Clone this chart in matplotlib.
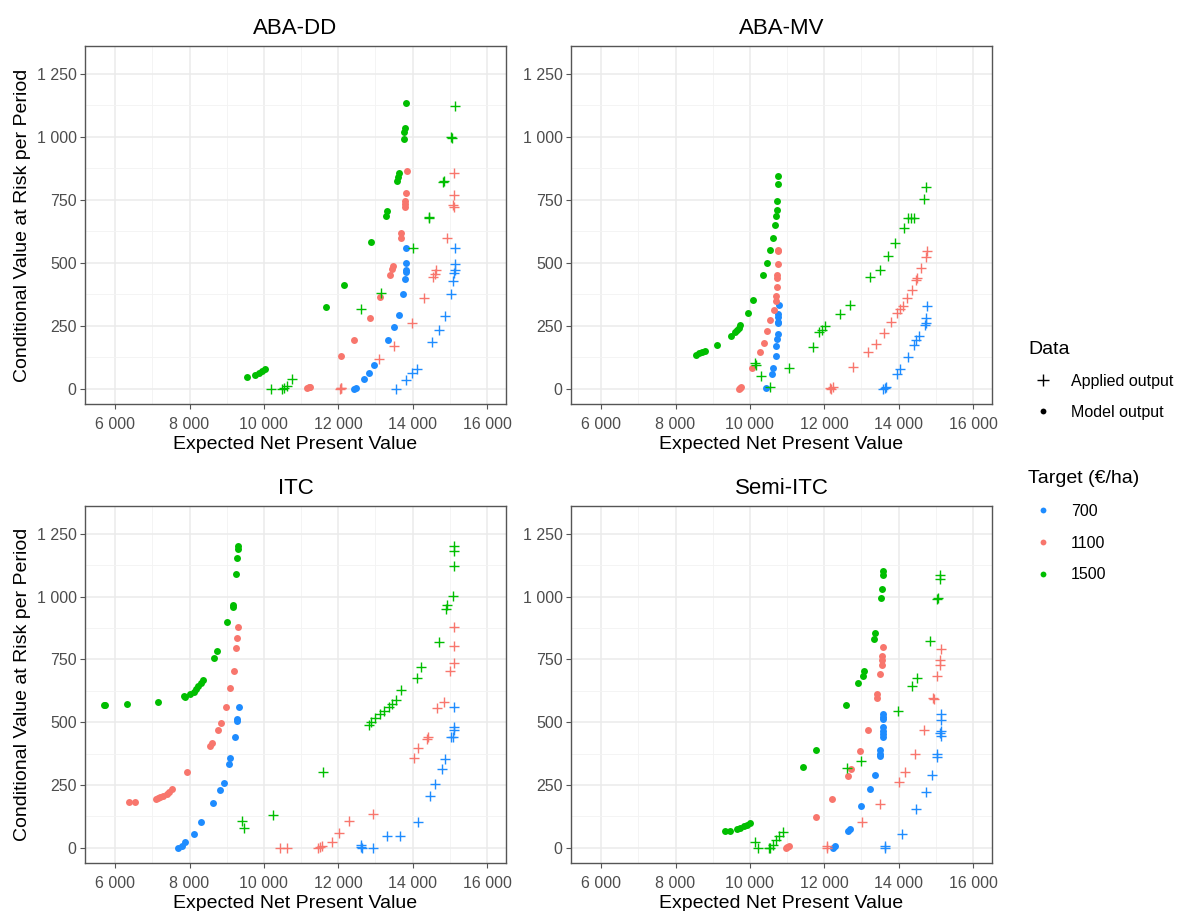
import matplotlib
matplotlib.use("Agg")
import matplotlib.pyplot as plt
from matplotlib.lines import Line2D
from matplotlib.ticker import FuncFormatter, MultipleLocator

plt.rcParams["font.family"] = ["Liberation Sans", "DejaVu Sans"]

# ---- data -----------------------------------------------------------------
PANELS = ["ABA-DD", "ABA-MV", "ITC", "Semi-ITC"]
TARGETS = ["700", "1100", "1500"]
TARGET_COLORS = {"700": "#1E8CFF", "1100": "#F8766D", "1500": "#00BE00"}

# ABA-DD
abadd_700_model_x = [13830, 13830, 13830, 13830, 13800, 13740, 13630, 13490, 13330, 12970, 12830, 12680, 12430, 12470]
abadd_700_model_y = [560, 499, 472, 462, 435, 376, 294, 246, 194, 95, 62, 38, 1, 2]
abadd_700_applied_x = [15130, 15130, 15130, 15120, 15090, 15020, 14860, 14700, 14520, 14120, 13980, 13820, 13560]
abadd_700_applied_y = [557, 496, 472, 459, 429, 376, 291, 234, 185, 78, 62, 36, 0]
abadd_1100_model_x = [13850, 13830, 13800, 13800, 13800, 13700, 13690, 13470, 13450, 13400, 13130, 12840, 12430, 12060, 11160, 11200, 11230]
abadd_1100_model_y = [865, 776, 747, 734, 720, 620, 598, 488, 475, 452, 364, 283, 194, 131, 3, 7, 9]
abadd_1100_applied_x = [15120, 15120, 15080, 15100, 14930, 14640, 14590, 14550, 14300, 13970, 13490, 13100, 12040, 12060, 12080]
abadd_1100_applied_y = [858, 770, 730, 721, 598, 472, 455, 442, 360, 261, 172, 118, 0, 2, 5]
abadd_1500_model_x = [13830, 13790, 13770, 13760, 13620, 13600, 13580, 13310, 13270, 12890, 12150, 11680, 9540, 9770, 9860, 9950, 10040]
abadd_1500_model_y = [1132, 1033, 1019, 993, 856, 839, 825, 704, 684, 582, 413, 323, 49, 56, 62, 69, 78]
abadd_1500_applied_x = [15130, 15040, 15060, 14810, 14830, 14430, 14440, 14000, 13160, 12620, 10200, 10480, 10540, 10620, 10760]
abadd_1500_applied_y = [1123, 999, 995, 820, 825, 677, 680, 557, 380, 316, 0, 0, 3, 12, 38]

# ABA-MV
abamv_700_model_x = [10780, 10760, 10760, 10760, 10760, 10760, 10730, 10710, 10690, 10620, 10600, 10420]
abamv_700_model_y = [333, 296, 287, 267, 261, 217, 197, 171, 131, 82, 58, 3]
abamv_700_applied_x = [14750, 14740, 14730, 14700, 14550, 14460, 14410, 14250, 14040, 13960, 13620, 13590, 13660]
abamv_700_applied_y = [327, 280, 261, 254, 210, 192, 175, 128, 78, 60, 3, 0, 7]
abamv_1100_model_x = [10760, 10760, 10750, 10730, 10730, 10720, 10690, 10690, 10640, 10550, 10470, 10370, 10280, 10060, 9740, 9700, 9770]
abamv_1100_model_y = [552, 548, 496, 452, 439, 403, 369, 347, 313, 274, 228, 181, 148, 82, 5, 0, 9]
abamv_1100_applied_x = [14750, 14730, 14590, 14480, 14460, 14350, 14230, 14120, 14040, 13960, 13800, 13600, 13380, 13180, 12770, 12240, 12190, 12150]
abamv_1100_applied_y = [545, 525, 479, 439, 433, 393, 360, 327, 316, 300, 267, 221, 179, 146, 85, 9, 0, 5]
abamv_1500_model_x = [10760, 10750, 10730, 10720, 10710, 10680, 10610, 10550, 10460, 10360, 10090, 9950, 9740, 9700, 9650, 9610, 9500, 9120, 8800, 8710, 8620, 8560]
abamv_1500_model_y = [845, 814, 747, 710, 687, 651, 597, 552, 499, 452, 352, 302, 254, 243, 234, 224, 210, 173, 152, 147, 142, 136]
abamv_1500_applied_x = [14740, 14680, 14260, 14340, 14410, 14140, 13900, 13710, 13490, 13230, 12690, 12410, 12030, 11930, 11850, 11700, 11050, 10130, 10160, 10310, 10530]
abamv_1500_applied_y = [800, 755, 677, 677, 677, 640, 578, 528, 472, 442, 333, 296, 250, 234, 224, 165, 83, 102, 95, 53, 9]

# ITC
itc_700_model_x = [9320, 9280, 9280, 9230, 9100, 9070, 8920, 8830, 8630, 8320, 8110, 7880, 7790, 7700]
itc_700_model_y = [561, 511, 504, 442, 358, 332, 259, 230, 179, 102, 54, 23, 9, 0]
itc_700_applied_x = [15120, 15120, 15120, 15080, 15030, 14880, 14790, 14610, 14460, 14150, 13650, 13310, 12930, 12640, 12620, 12600]
itc_700_applied_y = [561, 480, 471, 441, 441, 354, 315, 256, 206, 102, 49, 49, 0, 0, 5, 10]
itc_1100_model_x = [9300, 9280, 9260, 9190, 9100, 8980, 8840, 8770, 8600, 8540, 7930, 7540, 7460, 7390, 7300, 7210, 7150, 7100, 6540, 6360]
itc_1100_model_y = [878, 836, 795, 703, 636, 561, 498, 471, 418, 405, 301, 235, 224, 215, 208, 203, 199, 196, 184, 183]
itc_1100_applied_x = [15120, 15120, 15100, 15000, 14840, 14660, 14410, 14390, 14140, 14030, 12930, 12280, 12030, 11830, 11560, 11500, 11460, 10620, 10420]
itc_1100_applied_y = [880, 805, 736, 703, 580, 557, 441, 434, 398, 356, 135, 106, 60, 23, 7, 3, 0, 0, 0]
itc_1500_model_x = [9300, 9300, 9280, 9240, 9160, 9160, 9020, 8740, 8670, 8360, 8310, 8240, 8180, 8110, 8020, 7880, 7840, 7140, 6310, 5730, 5690]
itc_1500_model_y = [1201, 1190, 1153, 1088, 965, 958, 898, 782, 756, 666, 657, 644, 633, 621, 614, 601, 604, 581, 571, 567, 567]
itc_1500_applied_x = [15120, 15120, 15120, 15080, 14930, 14900, 14700, 14230, 14120, 13700, 13540, 13450, 13360, 13240, 13130, 13000, 12880, 12830, 11590, 10240, 9410, 9470]
itc_1500_applied_y = [1201, 1181, 1121, 1002, 965, 949, 819, 721, 677, 630, 590, 573, 560, 544, 531, 518, 500, 488, 301, 129, 109, 80]

# Semi-ITC
semi_700_model_x = [13590, 13590, 13590, 13580, 13580, 13580, 13580, 13510, 13500, 13490, 13360, 13220, 13000, 12680, 12640, 12280, 12230]
semi_700_model_y = [533, 521, 511, 480, 464, 454, 442, 391, 375, 365, 292, 235, 166, 76, 66, 7, 0]
semi_700_applied_x = [15130, 15130, 15130, 15110, 15130, 15040, 15020, 14910, 14730, 14470, 14080, 13620, 13620]
semi_700_applied_y = [531, 508, 467, 458, 445, 374, 361, 292, 223, 153, 57, 0, 7]
semi_1100_model_x = [13580, 13560, 13560, 13560, 13510, 13420, 13410, 13180, 12960, 12730, 12630, 12210, 11790, 11000, 10960, 11050]
semi_1100_model_y = [800, 763, 747, 727, 693, 614, 597, 471, 387, 315, 285, 195, 122, 3, 0, 7]
semi_1100_applied_x = [15130, 15110, 15110, 15040, 14930, 14950, 14680, 14430, 14160, 14010, 13510, 13020, 12060, 12060]
semi_1100_applied_y = [790, 747, 727, 683, 597, 594, 468, 372, 301, 264, 173, 104, 0, 9]
semi_1500_model_x = [13580, 13580, 13540, 13520, 13360, 13330, 13080, 13050, 12900, 12590, 11780, 11440, 10010, 9920, 9830, 9740, 9650, 9460, 9340]
semi_1500_model_y = [1101, 1084, 1031, 994, 853, 829, 703, 683, 654, 567, 389, 322, 100, 93, 86, 80, 76, 66, 66]
semi_1500_applied_x = [15110, 15110, 15070, 15040, 14840, 14500, 14370, 13990, 13000, 12600, 10880, 10780, 10690, 10610, 10510, 10550, 10210, 10130]
semi_1500_applied_y = [1084, 1068, 995, 991, 823, 677, 646, 544, 345, 317, 62, 46, 33, 13, 0, 0, 0, 24]

SERIES = {
    "ABA-DD": {
        "700": (abadd_700_model_x, abadd_700_model_y, abadd_700_applied_x, abadd_700_applied_y),
        "1100": (abadd_1100_model_x, abadd_1100_model_y, abadd_1100_applied_x, abadd_1100_applied_y),
        "1500": (abadd_1500_model_x, abadd_1500_model_y, abadd_1500_applied_x, abadd_1500_applied_y),
    },
    "ABA-MV": {
        "700": (abamv_700_model_x, abamv_700_model_y, abamv_700_applied_x, abamv_700_applied_y),
        "1100": (abamv_1100_model_x, abamv_1100_model_y, abamv_1100_applied_x, abamv_1100_applied_y),
        "1500": (abamv_1500_model_x, abamv_1500_model_y, abamv_1500_applied_x, abamv_1500_applied_y),
    },
    "ITC": {
        "700": (itc_700_model_x, itc_700_model_y, itc_700_applied_x, itc_700_applied_y),
        "1100": (itc_1100_model_x, itc_1100_model_y, itc_1100_applied_x, itc_1100_applied_y),
        "1500": (itc_1500_model_x, itc_1500_model_y, itc_1500_applied_x, itc_1500_applied_y),
    },
    "Semi-ITC": {
        "700": (semi_700_model_x, semi_700_model_y, semi_700_applied_x, semi_700_applied_y),
        "1100": (semi_1100_model_x, semi_1100_model_y, semi_1100_applied_x, semi_1100_applied_y),
        "1500": (semi_1500_model_x, semi_1500_model_y, semi_1500_applied_x, semi_1500_applied_y),
    },
}

X_TICKS = [6000, 8000, 10000, 12000, 14000, 16000]
Y_TICKS = [0, 250, 500, 750, 1000, 1250]


def space_thousands(v, _pos=None):
    return f"{int(round(v)):,}".replace(",", " ")


# ---- figure ---------------------------------------------------------------
W, H = 1179, 911
fig = plt.figure(figsize=(W / 100, H / 100), dpi=100)

# panel boxes in pixels: left, top, right, bottom
boxes = {
    "ABA-DD": (85, 46, 506, 404),
    "ABA-MV": (571, 46, 992, 404),
    "ITC": (85, 506, 506, 863),
    "Semi-ITC": (571, 506, 992, 863),
}

GRID = "#EBEBEB"
FRAME = "#555555"

for name in PANELS:
    l, t, r, b = boxes[name]
    ax = fig.add_axes([l / W, 1 - b / H, (r - l) / W, (b - t) / H])

    for target in TARGETS:
        mx, my, apx, apy = SERIES[name][target]
        color = TARGET_COLORS[target]
        ax.scatter(apx, apy, marker="+", s=42, linewidths=1.0,
                   color=color, zorder=3)
        ax.scatter(mx, my, marker="o", s=25, linewidths=0,
                   color=color, zorder=3)

    ax.set_xlim(5190, 16510)
    ax.set_ylim(-60, 1360)
    ax.set_xticks(X_TICKS)
    ax.set_yticks(Y_TICKS)
    ax.xaxis.set_minor_locator(MultipleLocator(1000))
    ax.yaxis.set_minor_locator(MultipleLocator(125))
    ax.xaxis.set_major_formatter(FuncFormatter(space_thousands))
    ax.yaxis.set_major_formatter(FuncFormatter(space_thousands))

    ax.grid(True, which="major", color=GRID, linewidth=1.1, zorder=0)
    ax.grid(True, which="minor", color="#F3F3F3", linewidth=0.6, zorder=0)
    ax.set_axisbelow(True)

    ax.tick_params(axis="both", which="major", labelsize=11.5,
                   labelcolor="#4D4D4D", color=FRAME, length=3.5,
                   width=0.8, pad=2.5)
    ax.tick_params(axis="x", which="major", pad=6)
    ax.tick_params(axis="both", which="minor", length=0)
    for spine in ax.spines.values():
        spine.set_color(FRAME)
        spine.set_linewidth(1.0)

    ax.set_title(name, fontsize=16, pad=9)
    ax.set_xlabel("Expected Net Present Value", fontsize=14)
    ax.xaxis.set_label_coords(0.5, -0.09)
    if l < 100:
        ax.set_ylabel("Conditional Value at Risk per Period", fontsize=14)
        ax.yaxis.set_label_coords(-0.128, 0.5)

# ---- legends --------------------------------------------------------------
data_handles = [
    Line2D([], [], marker="+", linestyle="none", color="black",
           markersize=8, markeredgewidth=1.0),
    Line2D([], [], marker="o", linestyle="none", color="black",
           markersize=4.2, markeredgewidth=0),
]
fig.legend(data_handles, ["Applied output", "Model output"],
           title="Data", loc="upper left",
           bbox_to_anchor=(1020 / W, 1 - 333 / H),
           frameon=False, fontsize=11.5, title_fontsize=14,
           alignment="left", borderpad=0, handlelength=1.9,
           handletextpad=0.8, labelspacing=1.0)

target_handles = [
    Line2D([], [], marker="o", linestyle="none",
           color=TARGET_COLORS[t], markersize=4.2, markeredgewidth=0)
    for t in TARGETS
]
fig.legend(target_handles, TARGETS,
           title="Target (€/ha)", loc="upper left",
           bbox_to_anchor=(1020 / W, 1 - 462 / H),
           frameon=False, fontsize=11.5, title_fontsize=14,
           alignment="left", borderpad=0, handlelength=1.9,
           handletextpad=0.8, labelspacing=1.05)

fig.savefig("out.png", dpi=100, facecolor="white")
